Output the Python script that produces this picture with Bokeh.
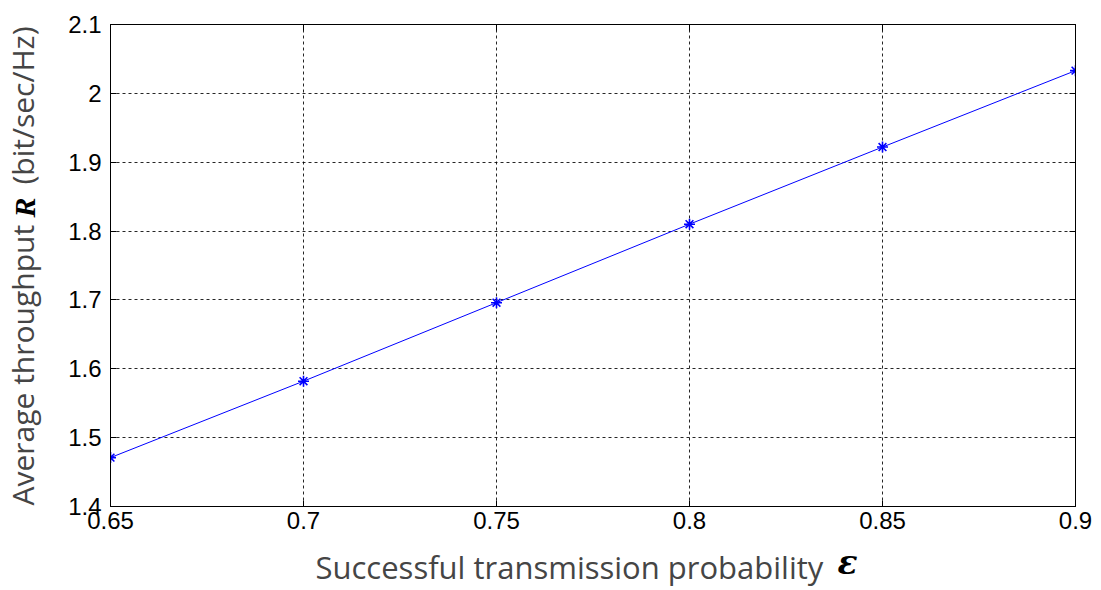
import math
from bokeh.plotting import figure
from bokeh.models import Range1d, FixedTicker, LinearAxis
from bokeh.layouts import column, row
from bokeh.core.properties import value
from bokeh.embed import file_html
from bokeh.resources import INLINE

# ---- data ----
prob = [0.65, 0.70, 0.75, 0.80, 0.85, 0.90]
throughput = [1.471, 1.582, 1.696, 1.810, 1.922, 2.033]
x_ticks = [0.65, 0.70, 0.75, 0.80, 0.85, 0.90]
x_tick_labels = ["0.65", "0.7", "0.75", "0.8", "0.85", "0.9"]
y_ticks = [1.4, 1.5, 1.6, 1.7, 1.8, 1.9, 2.0, 2.1]
y_tick_labels = ["1.4", "1.5", "1.6", "1.7", "1.8", "1.9", "2", "2.1"]
x_label_main = "Successful transmission probability"
x_label_sym = "ε"
y_label_main = "Average throughput"
y_label_sym = "R"
y_label_unit = "(bit/sec/Hz)"

TOTAL_W, TOTAL_H = 1100, 590
YL_W = 50
MAIN_H = 538
XL_H = TOTAL_H - MAIN_H
MAIN_W = TOTAL_W - YL_W
FRAME_L, FRAME_T, FRAME_R, FRAME_B = 110, 24, 1075, 506

p = figure(width=MAIN_W, height=MAIN_H, output_backend="svg", toolbar_location=None,
           x_range=Range1d(0.65, 0.9), y_range=Range1d(1.4, 2.1),
           min_border_left=FRAME_L - YL_W, min_border_top=FRAME_T,
           min_border_right=TOTAL_W - FRAME_R, min_border_bottom=MAIN_H - FRAME_B)
p.background_fill_color = "white"
p.border_fill_color = "white"
p.outline_line_color = "black"
p.outline_line_width = 1

for ax, ticks, labels in ((p.xaxis[0], x_ticks, x_tick_labels), (p.yaxis[0], y_ticks, y_tick_labels)):
    ax.ticker = FixedTicker(ticks=ticks)
    ax.major_label_overrides = {t: l for t, l in zip(ticks, labels)}
    ax.major_tick_in = 6
    ax.major_tick_out = 0
    ax.minor_tick_in = 0
    ax.minor_tick_out = 0
    ax.axis_line_color = "black"
    ax.major_tick_line_color = "black"
    ax.major_label_text_font = "Liberation Sans"
    ax.major_label_text_font_size = "24px"
    ax.major_label_text_color = "black"
p.yaxis[0].major_label_standoff = 9
p.xaxis[0].major_label_standoff = 5

# mirrored inward ticks on top and right (no labels)
for loc, ticks in (("above", x_ticks), ("right", y_ticks)):
    ax = LinearAxis(ticker=FixedTicker(ticks=ticks), major_tick_in=6, major_tick_out=0,
                    minor_tick_in=0, minor_tick_out=0, axis_line_color="black",
                    major_label_standoff=0)
    ax.major_label_overrides = {t: "" for t in ticks}
    p.add_layout(ax, loc)

for g, ticks in ((p.xgrid[0], x_ticks), (p.ygrid[0], y_ticks)):
    g.ticker = FixedTicker(ticks=ticks)
    g.grid_line_color = "black"
    g.grid_line_dash = "3 3"
    g.grid_line_width = 1
    g.grid_line_alpha = 0.85

p.line(prob, throughput, line_color="#0000ff", line_width=1)
p.scatter(prob, throughput, marker="asterisk", size=11, line_color="#0000ff", line_width=1.6)

lab_col = "#454545"


def text_panel(w, h, xr, yr):
    f = figure(width=w, height=h, output_backend="svg", toolbar_location=None,
               x_range=Range1d(*xr), y_range=Range1d(*yr),
               min_border=0, x_axis_location=None, y_axis_location=None)
    f.grid.visible = False
    f.outline_line_color = None
    f.background_fill_color = "white"
    f.border_fill_color = "white"
    return f


# y label panel: its frame is aligned with the main frame vertically -> page coordinates
yl = text_panel(YL_W, MAIN_H, (0, YL_W), (FRAME_B, FRAME_T))
yl.text(x=[22], y=[505], text=[y_label_main], angle=math.pi / 2, text_align="left",
        text_baseline="alphabetic", text_font=value("Open Sans"), text_font_size="30px",
        text_color=lab_col)
yl.text(x=[24], y=[217], text=[y_label_sym], angle=math.pi / 2, text_align="left",
        text_baseline="alphabetic", text_font=value("Liberation Serif"), text_font_style="bold italic",
        text_font_size="30px", text_color="black")
yl.text(x=[22], y=[26], text=[y_label_unit], angle=math.pi / 2, text_align="right",
        text_baseline="alphabetic", text_font=value("Open Sans"), text_font_size="30px",
        text_color=lab_col)

# x label panel (page coordinates)
xl = text_panel(TOTAL_W, XL_H, (0, TOTAL_W), (TOTAL_H, MAIN_H))
xl.text(x=[315], y=[566], text=[x_label_main], text_align="left",
        text_baseline="alphabetic", text_font=value("Open Sans"), text_font_size="31px",
        text_color=lab_col)
xl.text(x=[837], y=[562], text=[x_label_sym], text_align="left",
        text_baseline="alphabetic", text_font=value("DejaVu Serif"), text_font_style="bold italic",
        text_font_size="33px", text_color="black")

layout = column(row(yl, p, spacing=0), xl, spacing=0)
open("out.html", "w").write(file_html(layout, INLINE))
